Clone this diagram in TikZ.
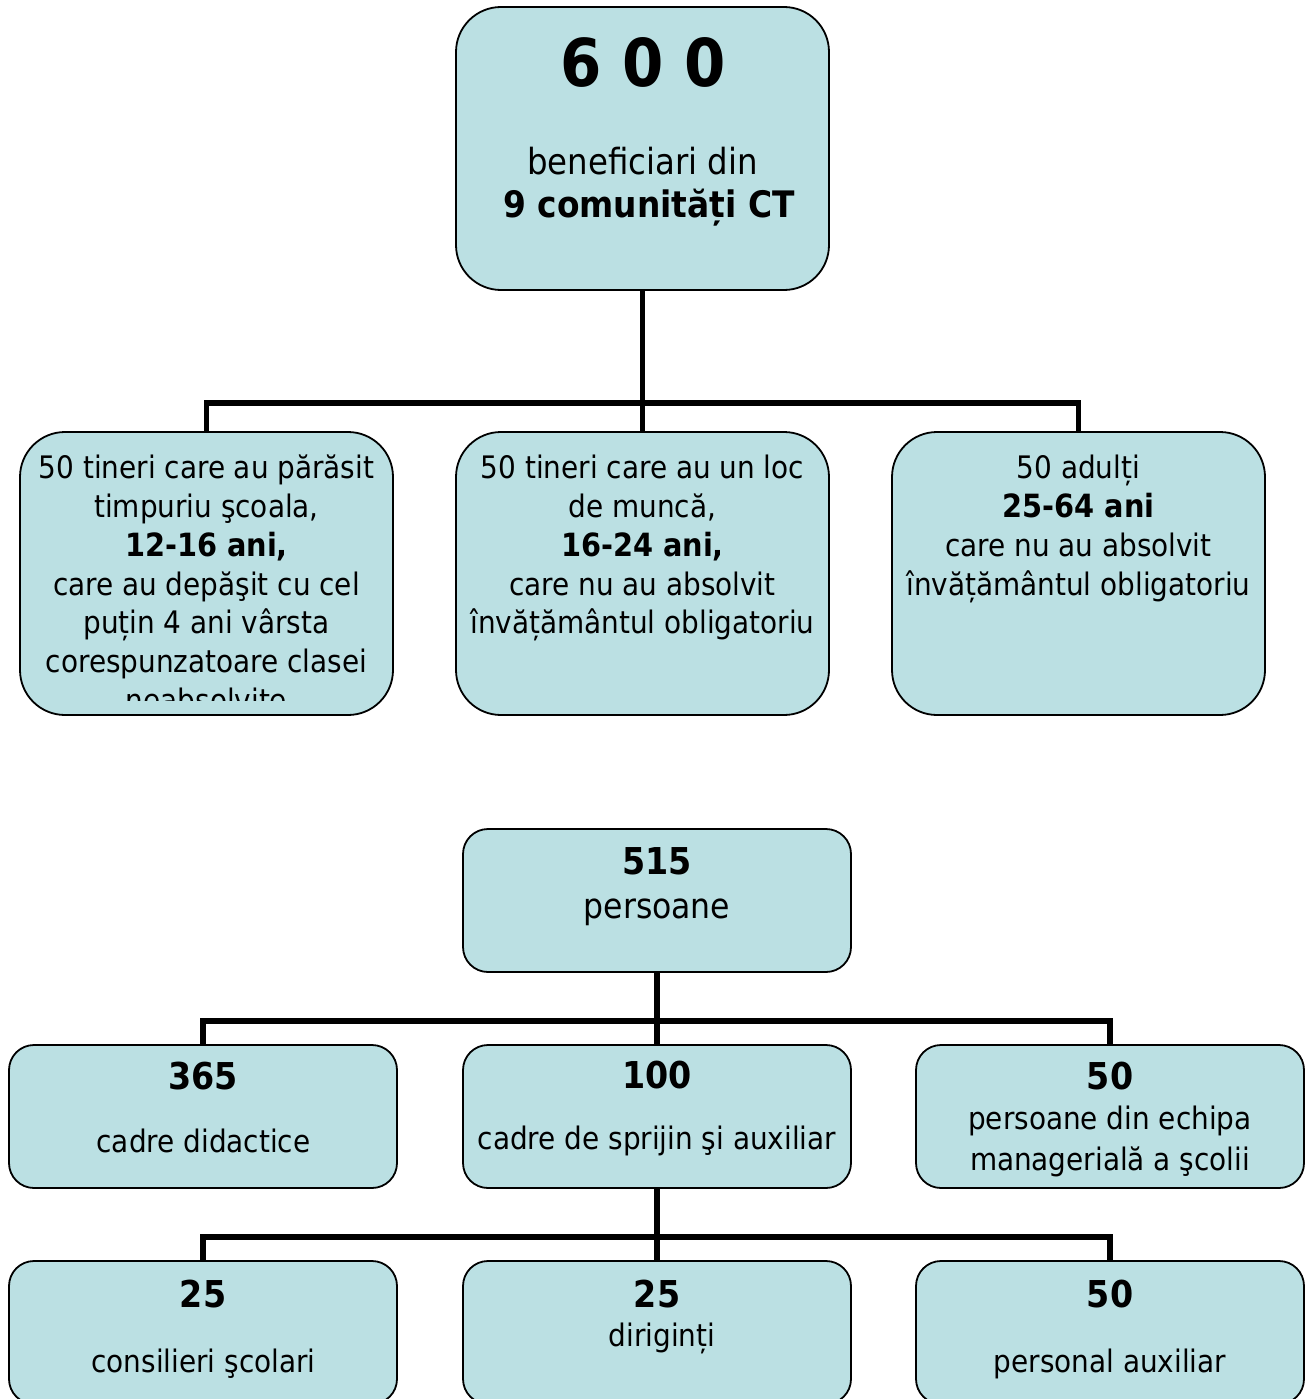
\documentclass[tikz,border=0pt]{standalone}
\usepackage{fontspec}
\setmainfont{DejaVu Sans Condensed}
\definecolor{boxfill}{RGB}{187,224,227}
\tikzset{
  bigbox/.style={draw=black, line width=1.8pt, fill=boxfill, rounded corners=45pt,
    minimum width=373pt, minimum height=283pt, inner sep=0pt, outer sep=0pt, anchor=north west},
  smallbox/.style={draw=black, line width=1.8pt, fill=boxfill, rounded corners=25pt,
    minimum width=388pt, minimum height=143pt, inner sep=0pt, outer sep=0pt, anchor=north west},
  conn/.style={draw=black, line width=5.5pt, line join=miter},
  txt/.style={font=\fontsize{31}{38}\selectfont, anchor=base, inner sep=0pt},
  btxt/.style={font=\fontsize{32}{38}\selectfont\bfseries, anchor=base, inner sep=0pt},
  bignum/.style={font=\fontsize{37}{42}\selectfont\bfseries, anchor=base, inner sep=0pt},
}
\begin{document}
\begin{tikzpicture}[x=1pt,y=-1pt]
\useasboundingbox (0,0) rectangle (1311,1399);
\fill[white] (0,0) rectangle (1311,1399);

% ---------- top chart ----------
\node[bigbox] (top) at (456,7) {};
\node[bigbox] (b1) at (20,432) {};
\node[bigbox] (b2) at (456,432) {};
\node[bigbox] (b3) at (892,432) {};

\coordinate (j1) at (642.5,403);
\draw[conn] (top.south) -- (j1);
\draw[conn] (b1.north) |- (j1) -| (b3.north);
\draw[conn] (j1) -- (b2.north);

\node[font=\fontsize{66}{70}\selectfont\bfseries, anchor=base, inner sep=0pt] (t600) at (643.5,87) {6 0 0};
\node[font=\fontsize{36}{42}\selectfont, anchor=base, inner sep=0pt] (tben) at (642.5,175) {beneficiari din};
\node[font=\fontsize{36.5}{42}\selectfont\bfseries, anchor=base, inner sep=0pt] (tcom) at (649,218) {9 comunități CT};

\begin{scope}
\clip (20,432) rectangle (393,700);
\node[txt] (a1) at (206.5,478) {50 tineri care au părăsit};
\node[txt] (a2) at (206.5,517) {timpuriu şcoala,};
\node[btxt] (a3) at (206.5,556) {12-16 ani,};
\node[txt] (a4) at (206.5,595) {care au depăşit cu cel};
\node[txt] (a5) at (206.5,633) {puțin 4 ani vârsta};
\node[txt] (a6) at (206.5,672) {corespunzatoare clasei};
\node[txt] (a7) at (206.5,711) {neabsolvite};
\end{scope}

\node[txt] (m1) at (642.5,478) {50 tineri care au un loc};
\node[txt] (m2) at (642.5,517) {de muncă,};
\node[btxt] (m3) at (642.5,556) {16-24 ani,};
\node[txt] (m4) at (642.5,595) {care nu au absolvit};
\node[txt] (m5) at (642.5,633) {învățământul obligatoriu};

\node[txt] (r1) at (1078.5,478) {50 adulți};
\node[btxt] (r2) at (1078.5,517) {25-64 ani};
\node[txt] (r3) at (1078.5,556) {care nu au absolvit};
\node[txt] (r4) at (1078.5,595) {învățământul obligatoriu};

% ---------- bottom chart ----------
\node[smallbox] (p515) at (463,829) {};
\node[smallbox] (c1) at (9,1045) {};
\node[smallbox] (c2) at (463,1045) {};
\node[smallbox] (c3) at (916,1045) {};
\node[smallbox] (d1) at (9,1261) {};
\node[smallbox] (d2) at (463,1261) {};
\node[smallbox] (d3) at (916,1261) {};

\coordinate (j2) at (657,1021);
\draw[conn] (p515.south) -- (c2.north);
\draw[conn] (c1.north) |- (j2) -| (c3.north);

\coordinate (j3) at (657,1237);
\draw[conn] (c2.south) -- (d2.north);
\draw[conn] (d1.north) |- (j3) -| (d3.north);

\node[bignum] (n515) at (657,874) {515};
\node[font=\fontsize{35}{40}\selectfont, anchor=base, inner sep=0pt] (npers) at (657,918) {persoane};

\node[bignum] (n365) at (203,1089) {365};
\node[txt] (ncd) at (203.5,1152) {cadre didactice};
\node[bignum] (n100) at (657,1088) {100};
\node[txt] (ncs) at (657,1149) {cadre de sprijin şi auxiliar};
\node[bignum] (n50a) at (1110,1089) {50};
\node[txt] (nech1) at (1110,1129) {persoane din echipa};
\node[txt] (nech2) at (1110,1170) {managerială a şcolii};

\node[bignum] (n25a) at (203,1307) {25};
\node[txt] (ncons) at (203.5,1372) {consilieri şcolari};
\node[bignum] (n25b) at (657,1307) {25};
\node[txt] (ndir) at (662,1346) {diriginți};
\node[bignum] (n50b) at (1110,1307) {50};
\node[txt] (npa) at (1110,1372) {personal auxiliar};
\end{tikzpicture}
\end{document}
